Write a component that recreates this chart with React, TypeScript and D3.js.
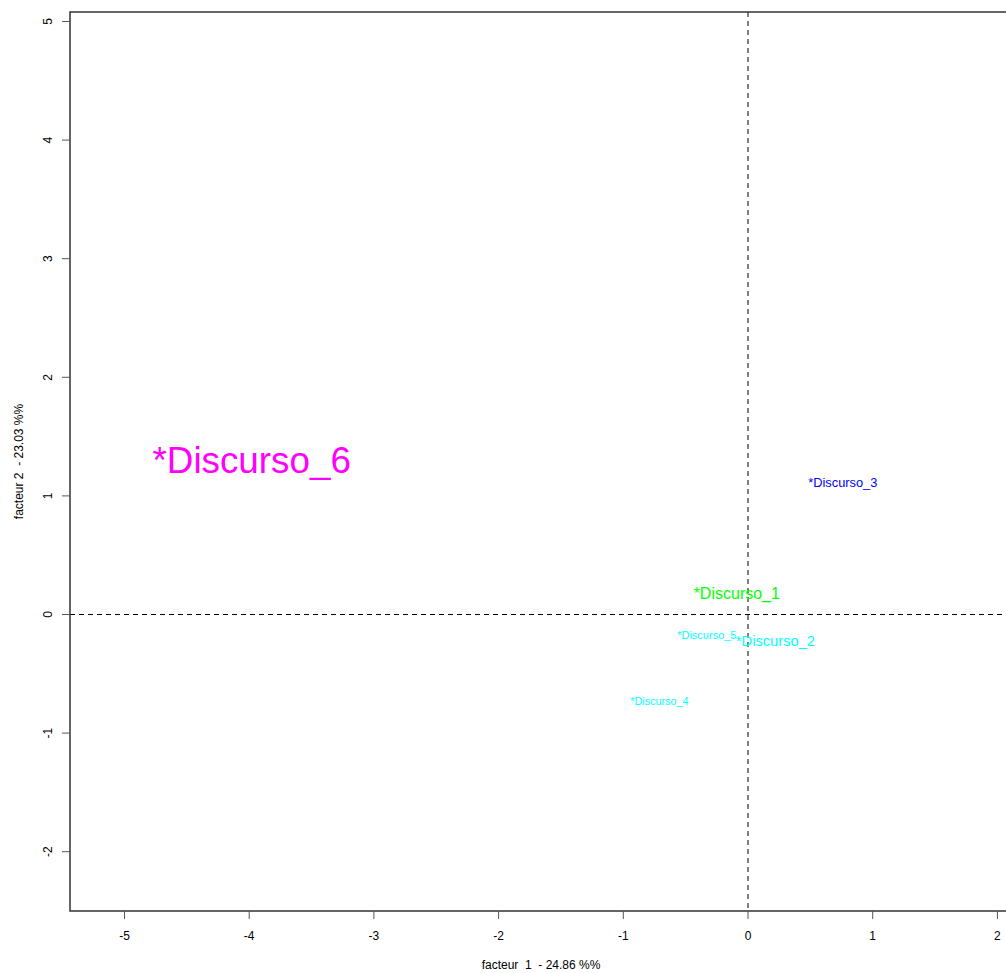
import React from "react";
import * as d3 from "d3";

// factor coordinates
const labels = ["*Discurso_1", "*Discurso_2", "*Discurso_3", "*Discurso_4", "*Discurso_5", "*Discurso_6"];
const factor1 = [-0.09, 0.22, 0.76, -0.71, -0.33, -3.98];
const factor2 = [0.18, -0.22, 1.11, -0.73, -0.17, 1.30];
const labelSizes = [16, 14.7, 12.8, 10.8, 11, 36.8];
const labelColors = ["#00ff00", "#00ffff", "#0000ff", "#00ffff", "#00ffff", "#ff00ff"];
const xTicks = [-5, -4, -3, -2, -1, 0, 1, 2];
const yTicks = [-2, -1, 0, 1, 2, 3, 4, 5];
const xTitle = "facteur  1  - 24.86 %%";
const yTitle = "facteur 2  - 23.03 %%";

const W = 1006;
const H = 973;
const left = 70;
const right = 1012;
const top = 12;
const bottom = 911;
const font = "'Liberation Sans', Arial, sans-serif";

// keep R's doubled spaces in the titles
const keepSpaces = (s: string) => s.replace(/ /g, "\u00a0");

export default function App() {
  const x = d3.scaleLinear().domain([-5.437, 2.117]).range([left, right]);
  const y = d3.scaleLinear().domain([-2.5, 5.08]).range([bottom, top]);

  const points = labels.map((label, i) => ({
    label,
    x: factor1[i],
    y: factor2[i],
    size: labelSizes[i],
    color: labelColors[i],
  }));

  return (
    <svg
      width={W}
      height={H}
      style={{ position: "absolute", left: 0, top: 0, background: "#fff" }}
      fontFamily={font}
    >
      <rect x={0} y={0} width={W} height={H} fill="#fff" />
      {/* reference lines */}
      <line x1={x(0)} x2={x(0)} y1={top} y2={bottom} stroke="#000" strokeDasharray="5,4" />
      <line x1={left} x2={right} y1={y(0)} y2={y(0)} stroke="#000" strokeDasharray="5,4" />

      {points.map((p) => (
        <text
          key={p.label}
          x={x(p.x)}
          y={y(p.y)}
          fill={p.color}
          fontSize={p.size}
          textAnchor="middle"
          dominantBaseline="central"
        >
          {p.label}
        </text>
      ))}

      {/* box */}
      <rect x={left} y={top} width={right - left} height={bottom - top} fill="none" stroke="#333" strokeWidth={1.5} />

      {/* x axis */}
      {xTicks.map((t) => (
        <g key={"x" + t}>
          <line x1={x(t)} x2={x(t)} y1={bottom} y2={bottom + 8} stroke="#555" />
          <text x={x(t)} y={940} fontSize={12} textAnchor="middle" fill="#000">
            {t}
          </text>
        </g>
      ))}
      <text x={(left + right) / 2} y={969} fontSize={12} textAnchor="middle" fill="#000">
        {keepSpaces(xTitle)}
      </text>

      {/* y axis */}
      {yTicks.map((t) => (
        <g key={"y" + t}>
          <line x1={left - 8} x2={left} y1={y(t)} y2={y(t)} stroke="#555" />
          <text
            transform={`translate(52,${y(t)}) rotate(-90)`}
            fontSize={12}
            textAnchor="middle"
            fill="#000"
          >
            {t}
          </text>
        </g>
      ))}
      <text
        transform={`translate(23,${(top + bottom) / 2}) rotate(-90)`}
        fontSize={12}
        textAnchor="middle"
        fill="#000"
      >
        {keepSpaces(yTitle)}
      </text>
    </svg>
  );
}
